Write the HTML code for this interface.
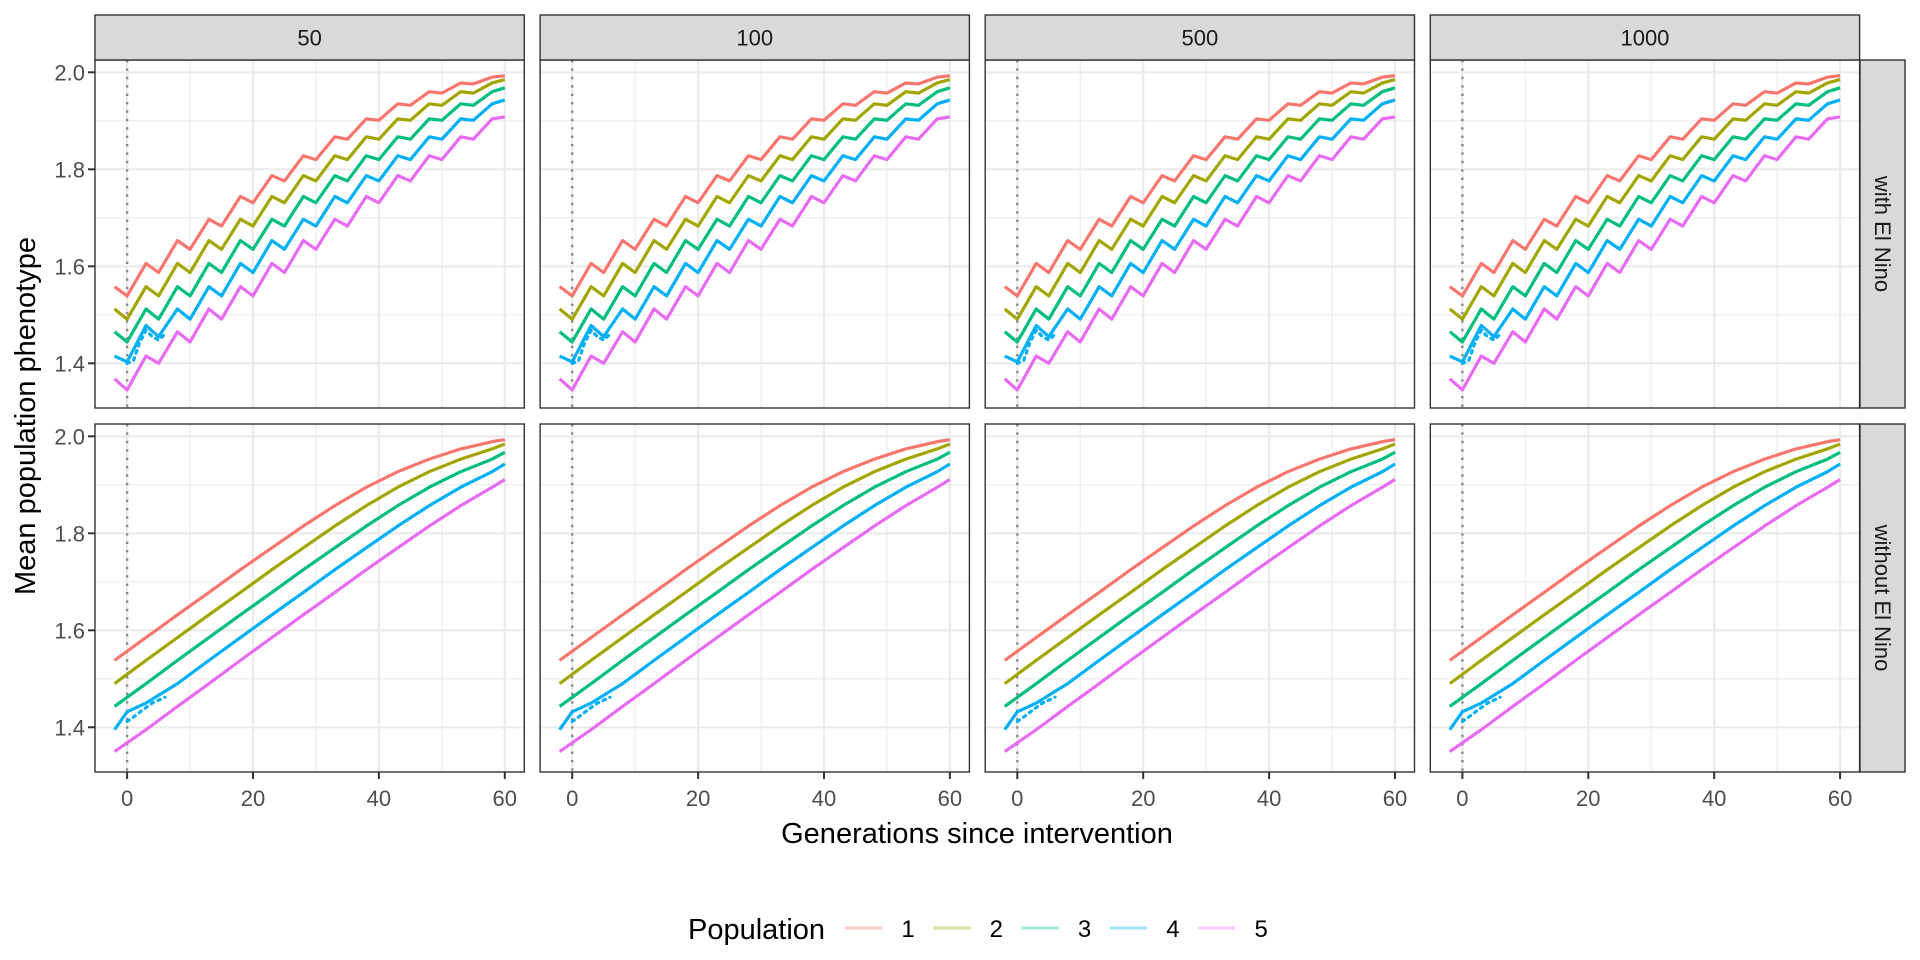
<!DOCTYPE html>
<html><head><meta charset="utf-8"><style>
html,body{margin:0;padding:0;background:#fff;}
svg{display:block;font-family:"Liberation Sans",Arial,sans-serif;}
</style></head><body>
<svg id="chart" width="1920" height="960" viewBox="0 0 1920 960" xmlns="http://www.w3.org/2000/svg"></svg>
<script>
const facetCols = ["50","100","500","1000"];
const facetRows = ["with El Nino","without El Nino"];
const popNames = ["1","2","3","4","5"];
const popColors = ["#F8766D","#A3A500","#00BF7D","#00B0F6","#E76BF3"];
const xTicks = [0,20,40,60];
const xMinor = [10,30,50];
const yTicks = [1.4,1.6,1.8,2.0];
const yMinor = [1.5,1.7,1.9];
const xDomain = [-5.1, 63.1];

const gensTop = [-2,0,3,5,8,10,13,15,18,20,23,25,28,30,33,35,38,40,43,45,48,50,53,55,58,60];
const topPop1 = [1.558,1.539,1.606,1.587,1.653,1.635,1.697,1.683,1.744,1.731,1.787,1.776,1.828,1.820,1.867,1.862,1.904,1.901,1.935,1.932,1.960,1.957,1.978,1.976,1.990,1.993];
const topPop2 = [1.512,1.491,1.558,1.539,1.606,1.587,1.653,1.635,1.697,1.683,1.744,1.731,1.787,1.776,1.828,1.820,1.867,1.862,1.904,1.901,1.935,1.932,1.960,1.957,1.978,1.985];
const topPop3 = [1.465,1.444,1.512,1.491,1.558,1.539,1.606,1.587,1.653,1.635,1.697,1.683,1.744,1.731,1.787,1.776,1.828,1.820,1.867,1.862,1.904,1.901,1.935,1.932,1.960,1.968];
const topPop4 = [1.415,1.403,1.478,1.455,1.512,1.491,1.558,1.539,1.606,1.587,1.653,1.635,1.697,1.683,1.744,1.731,1.787,1.776,1.828,1.820,1.867,1.862,1.904,1.901,1.935,1.943];
const topPop5 = [1.368,1.345,1.415,1.400,1.465,1.444,1.512,1.491,1.558,1.539,1.606,1.587,1.653,1.635,1.697,1.683,1.744,1.731,1.787,1.776,1.828,1.820,1.867,1.862,1.904,1.908];
const gensTopDotted = [0,1,2,3,4,5,6];
const topPop4Dotted = [1.400,1.405,1.443,1.468,1.455,1.448,1.460];

const gensBot = [-2,3,8,13,18,23,28,33,38,43,48,53,58,60];
const botPop1 = [1.538,1.585,1.632,1.678,1.725,1.770,1.815,1.857,1.895,1.927,1.953,1.974,1.989,1.993];
const botPop2 = [1.490,1.538,1.585,1.632,1.678,1.725,1.770,1.815,1.857,1.895,1.927,1.953,1.974,1.984];
const botPop3 = [1.443,1.490,1.538,1.585,1.632,1.678,1.725,1.770,1.815,1.857,1.895,1.927,1.953,1.967];
const botPop5 = [1.350,1.395,1.443,1.490,1.538,1.585,1.632,1.678,1.725,1.770,1.815,1.857,1.895,1.911];
const gensBot4 = [-2,0,3,8,13,18,23,28,33,38,43,48,53,58,60];
const botPop4 = [1.395,1.432,1.450,1.490,1.538,1.585,1.632,1.678,1.725,1.770,1.815,1.857,1.895,1.927,1.943];
const gensBotDotted = [0,1.2,2.5,4,6];
const botPop4Dotted = [1.412,1.423,1.436,1.450,1.462];

const NS="http://www.w3.org/2000/svg";
const svg=document.getElementById('chart');
function mk(tag,attrs,parent){const e=document.createElementNS(NS,tag);for(const k in attrs)e.setAttribute(k,attrs[k]);(parent||svg).appendChild(e);return e;}

const panelX0=95, panelPitch=445.1, panelW=429.3, panelH=348;
const rowY=[60,424];
function xScale(v,px){return px+(v-xDomain[0])/(xDomain[1]-xDomain[0])*panelW;}
function yScale(v,py){return py+12.3+(2.0-v)*485;}

const rowSeries=[
 [[gensTop,topPop1],[gensTop,topPop2],[gensTop,topPop3],[gensTop,topPop4],[gensTop,topPop5]],
 [[gensBot,botPop1],[gensBot,botPop2],[gensBot,botPop3],[gensBot4,botPop4],[gensBot,botPop5]]
];
const rowDotted=[[gensTopDotted,topPop4Dotted],[gensBotDotted,botPop4Dotted]];

for(let r=0;r<2;r++){
 for(let c=0;c<4;c++){
  const px=panelX0+c*panelPitch, py=rowY[r];
  const g=mk('g',{});
  
  
  mk('rect',{x:px,y:py,width:panelW,height:panelH,fill:'#fff'},g);
  const cp='cp'+r+c;
  const defs=mk('defs',{},g);const clip=mk('clipPath',{id:cp},defs);mk('rect',{x:px,y:py,width:panelW,height:panelH},clip);
  yMinor.forEach(v=>{const l=mk('line',{x1:px,x2:px+panelW,y1:yScale(v,py),y2:yScale(v,py),stroke:'#EBEBEB','stroke-width':1.1},g);});
  xMinor.forEach(v=>{const l=mk('line',{x1:xScale(v,px),x2:xScale(v,px),y1:py,y2:py+panelH,stroke:'#EBEBEB','stroke-width':1.1},g);});
  yTicks.forEach(v=>{const l=mk('line',{x1:px,x2:px+panelW,y1:yScale(v,py),y2:yScale(v,py),stroke:'#EBEBEB','stroke-width':2.2},g);});
  xTicks.forEach(v=>{const l=mk('line',{x1:xScale(v,px),x2:xScale(v,px),y1:py,y2:py+panelH,stroke:'#EBEBEB','stroke-width':2.2},g);});
  const vl=mk('line',{x1:xScale(0,px),x2:xScale(0,px),y1:py,y2:py+panelH,stroke:'#8a8a8a','stroke-width':2.4,'stroke-dasharray':'2.4 6'},g);
  
  const lg=mk('g',{'clip-path':'url(#'+cp+')'},g);
  rowSeries[r].forEach((s,k)=>{
   const d=s[0].map((x,i)=>(i?'L':'M')+xScale(x,px).toFixed(2)+','+yScale(s[1][i],py).toFixed(2)).join(' ');
   const p=mk('path',{d:d,fill:'none',stroke:popColors[k],'stroke-width':3.2,'stroke-linejoin':'round','stroke-linecap':'butt'},lg);
   
   
  });
  const ds=rowDotted[r];
  const dd=ds[0].map((x,i)=>(i?'L':'M')+xScale(x,px).toFixed(2)+','+yScale(ds[1][i],py).toFixed(2)).join(' ');
  const dp=mk('path',{d:dd,fill:'none',stroke:popColors[3],'stroke-width':3.2,'stroke-dasharray':'2.5 5','stroke-linecap':'round'},lg);
  
  
  mk('rect',{x:px,y:py,width:panelW,height:panelH,fill:'none',stroke:'#333','stroke-width':1.4},g);
  if(r==0){
   const sg=mk('g',{});
   
   mk('rect',{x:px,y:15,width:panelW,height:45,fill:'#D9D9D9',stroke:'#333','stroke-width':1.4},sg);
   const t=mk('text',{x:px+panelW/2,y:45.5,'text-anchor':'middle','font-size':22,fill:'#1A1A1A'},sg);t.textContent=facetCols[c];
  }
  if(r==1){
   xTicks.forEach(v=>{
    const x=xScale(v,px);
    const tk=mk('line',{x1:x,x2:x,y1:py+panelH,y2:py+panelH+7,stroke:'#333','stroke-width':2});
    
    const t=mk('text',{x:x,y:py+panelH+34,'text-anchor':'middle','font-size':22,fill:'#4D4D4D'});
    
    t.textContent=v;
   });
  }
  if(c==0){
   yTicks.forEach(v=>{
    const y=yScale(v,py);
    const tk=mk('line',{x1:px-7,x2:px,y1:y,y2:y,stroke:'#333','stroke-width':2});
    
    const t=mk('text',{x:px-10,y:y+8,'text-anchor':'end','font-size':22,fill:'#4D4D4D'});
    
    t.textContent=v.toFixed(1);
   });
  }
 }
 const sg=mk('g',{});
 
 mk('rect',{x:1860,y:rowY[r],width:45,height:panelH,fill:'#D9D9D9',stroke:'#333','stroke-width':1.4},sg);
 const cy=rowY[r]+panelH/2;
 const t=mk('text',{x:1882.5,y:cy,'text-anchor':'middle','font-size':22,fill:'#1A1A1A',transform:'rotate(90 1882.5 '+cy+')','dominant-baseline':'central'},sg);
 t.textContent=facetRows[r];
}
const xt=mk('text',{x:977,y:843,'text-anchor':'middle','font-size':29,fill:'#000'});

xt.textContent='Generations since intervention';
const yt=mk('text',{x:35,y:416,'text-anchor':'middle','font-size':29,fill:'#000',transform:'rotate(-90 35 416)'});

yt.textContent='Mean population phenotype';
const lgTitle=mk('text',{x:688,y:939,'font-size':29,fill:'#000'});

lgTitle.textContent='Population';
popNames.forEach((n,k)=>{
 const x0=845+k*88.3;
 const g=mk('g',{});
 
 
 mk('line',{x1:x0,x2:x0+37,y1:928,y2:928,stroke:popColors[k],'stroke-width':3.2,'stroke-opacity':0.35},g);
 const t=mk('text',{x:x0+63,y:937,'text-anchor':'middle','font-size':24,fill:'#000'},g);t.textContent=n;
});
</script>
</body></html>
